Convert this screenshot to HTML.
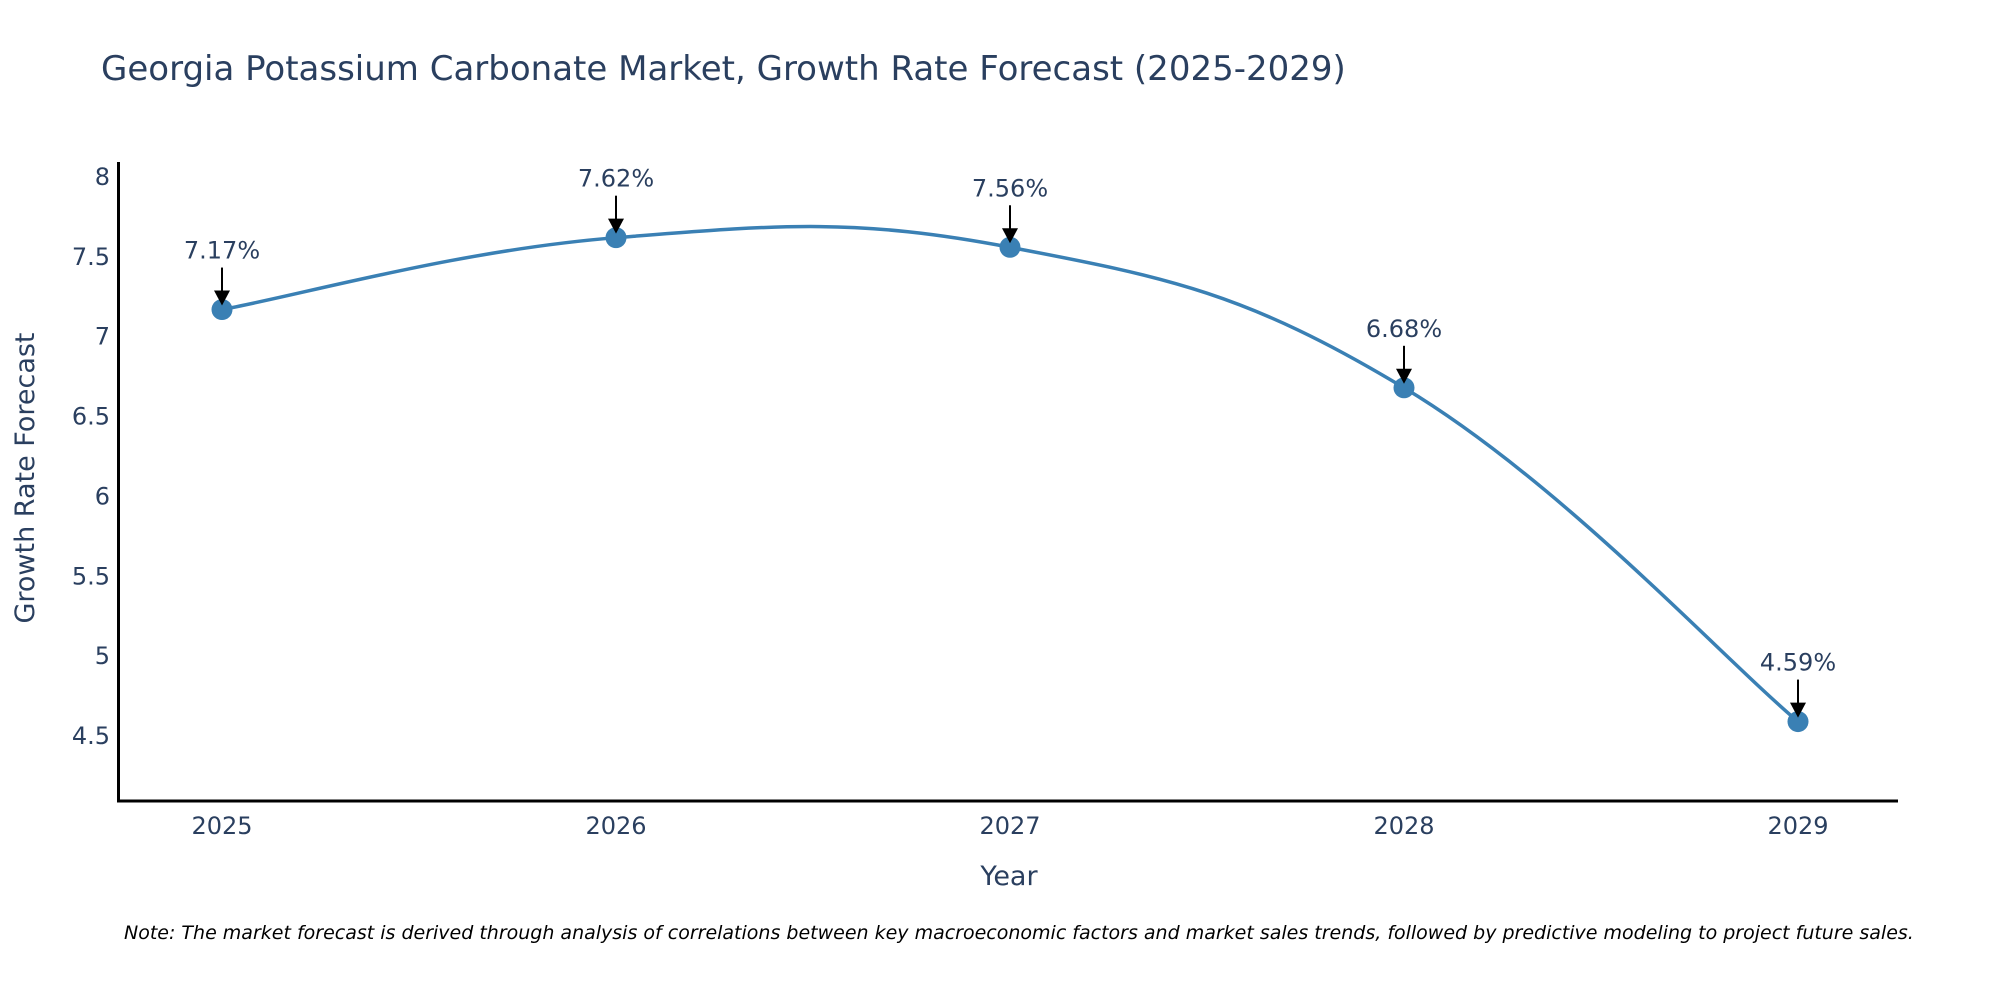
<!DOCTYPE html>
<html><head><meta charset="utf-8"><style>
body{margin:0;background:#fff;}
svg text{font-family:"DejaVu Sans","Liberation Sans",sans-serif;fill:#2a3f5f;}
</style></head><body>
<svg id="chart" width="2000" height="1000" xmlns="http://www.w3.org/2000/svg">
<text x="101" y="80" font-size="34">Georgia Potassium Carbonate Market, Growth Rate Forecast (2025-2029)</text>
<g id="yticks"></g>
<g id="xticks"></g>
<path id="line" fill="none" stroke="#3a80b4" stroke-width="3.5"/>
<g id="points"></g>
<g id="annots"></g>
<line x1="118.5" y1="162" x2="118.5" y2="802" stroke="#000" stroke-width="3"/>
<line x1="117" y1="801" x2="1898" y2="801" stroke="#000" stroke-width="3"/>
<text transform="translate(34,478) rotate(-90)" text-anchor="middle" font-size="27">Growth Rate Forecast</text>
<text x="1009" y="885" text-anchor="middle" font-size="27">Year</text>
<text x="124" y="939" font-size="19" font-style="italic" style="fill:#000">Note: The market forecast is derived through analysis of correlations between key macroeconomic factors and market sales trends, followed by predictive modeling to project future sales.</text>
</svg>
<script>
const years = ["2025","2026","2027","2028","2029"];
const values = [7.17, 7.62, 7.56, 6.68, 4.59];
const labels = ["7.17%","7.62%","7.56%","6.68%","4.59%"];
const yTicks = [4.5,5,5.5,6,6.5,7,7.5,8];
const yTickLabels = ["4.5","5","5.5","6","6.5","7","7.5","8"];

const NS="http://www.w3.org/2000/svg";
function xScale(i){return 222+i*394;}
function yScale(v){return 177+(8-v)*159.7;}
function mk(tag,attrs,parent,text){const e=document.createElementNS(NS,tag);for(const k in attrs)e.setAttribute(k,attrs[k]);if(text!==undefined)e.textContent=text;parent.appendChild(e);return e;}

const yt=document.getElementById('yticks');
yTicks.forEach((v,i)=>{
  const t=mk('text',{x:110,y:yScale(v)+8,'text-anchor':'end','font-size':24},yt,yTickLabels[i]);
  
  
});
const xt=document.getElementById('xticks');
years.forEach((y,i)=>{
  const t=mk('text',{x:xScale(i),y:834,'text-anchor':'middle','font-size':24},xt,y);
  
  
});

const pts=values.map((v,i)=>[xScale(i),yScale(v)]);
let d=`M${pts[0][0]},${pts[0][1]}`;
const k=5;
for(let i=0;i<pts.length-1;i++){
  const p0=pts[Math.max(0,i-1)],p1=pts[i],p2=pts[i+1],p3=pts[Math.min(pts.length-1,i+2)];
  const c1=[p1[0]+(p2[0]-p0[0])/k,p1[1]+(p2[1]-p0[1])/k];
  const c2=[p2[0]-(p3[0]-p1[0])/k,p2[1]-(p3[1]-p1[1])/k];
  d+=` C${c1[0]},${c1[1]} ${c2[0]},${c2[1]} ${p2[0]},${p2[1]}`;
}
document.getElementById('line').setAttribute('d',d);

const pg=document.getElementById('points');
const ag=document.getElementById('annots');
pts.forEach((p,i)=>{
  const c=mk('circle',{cx:p[0],cy:p[1],r:10.5,fill:'#3a80b4'},pg);
  
  
  const a=mk('line',{x1:p[0],y1:p[1]-42,x2:p[0],y2:p[1]-14,stroke:'#000','stroke-width':2},ag);
  
  
  const h=mk('path',{d:`M${p[0]-8},${p[1]-19} L${p[0]+8},${p[1]-19} L${p[0]},${p[1]-4} Z`,fill:'#000'},ag);
  
  
  const t=mk('text',{x:p[0],y:p[1]-51,'text-anchor':'middle','font-size':24},ag,labels[i]);
  
  
});
</script>
</body></html>
